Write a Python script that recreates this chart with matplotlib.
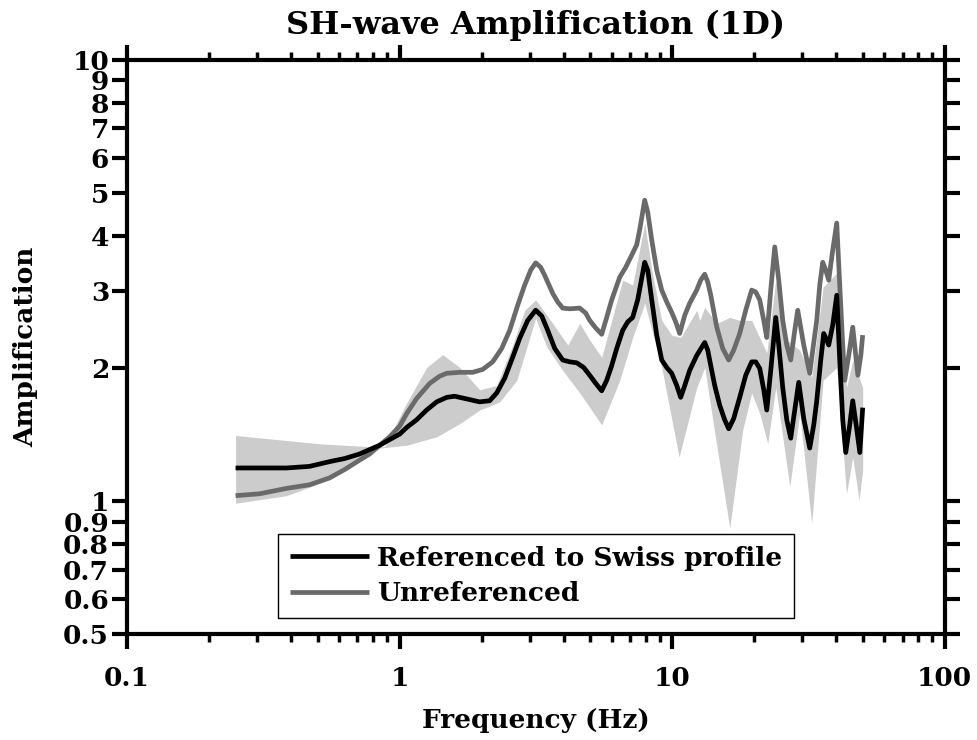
import numpy as np
import matplotlib
matplotlib.use('Agg')
from matplotlib import pyplot as plt
from matplotlib.ticker import FixedLocator, LogLocator, NullFormatter, NullLocator

#########
# data
#########

# amplification referenced to the Swiss reference rock profile
f_ref = [0.25, 0.306, 0.385, 0.467, 0.553, 0.628, 0.713, 0.776, 0.845, 0.919,
         1.0, 1.061, 1.154, 1.256, 1.367, 1.488, 1.591, 1.732, 1.966, 2.139,
         2.270, 2.428, 2.598, 2.756, 2.950, 3.156, 3.320, 3.493, 3.706, 3.964,
         4.206, 4.462, 4.734, 4.981, 5.240, 5.511, 5.749, 5.998, 6.257, 6.582,
         6.866, 7.161, 7.470, 7.727, 7.925, 8.132, 8.411, 8.773, 9.152, 9.546,
         9.958, 10.39, 10.74, 11.12, 11.59, 12.30, 13.16, 13.50, 13.85, 14.32,
         14.94, 15.58, 16.12, 16.81, 17.69, 18.61, 19.57, 20.25, 20.95, 21.67,
         22.23, 22.99, 23.98, 24.60, 25.44, 26.32, 27.22, 28.16, 29.12, 30.38,
         31.96, 33.06, 33.91, 35.08, 35.97, 36.90, 37.52, 38.82, 40.15, 41.18,
         42.24, 43.32, 44.81, 45.96, 47.3, 48.8, 50.0]
amp_ref = [1.19, 1.19, 1.19, 1.20, 1.23, 1.25, 1.28, 1.31, 1.34, 1.38,
           1.42, 1.47, 1.53, 1.61, 1.68, 1.72, 1.73, 1.71, 1.68, 1.69,
           1.76, 1.90, 2.12, 2.34, 2.57, 2.71, 2.63, 2.44, 2.22, 2.09,
           2.07, 2.06, 2.01, 1.93, 1.85, 1.78, 1.88, 2.03, 2.22, 2.44,
           2.55, 2.61, 2.86, 3.20, 3.48, 3.34, 2.86, 2.38, 2.09, 2.01,
           1.95, 1.83, 1.72, 1.83, 1.98, 2.14, 2.29, 2.20, 2.03, 1.83,
           1.65, 1.53, 1.46, 1.54, 1.72, 1.93, 2.07, 2.07, 2.00, 1.79,
           1.61, 1.98, 2.61, 2.26, 1.81, 1.53, 1.39, 1.61, 1.86, 1.54,
           1.32, 1.49, 1.69, 2.09, 2.40, 2.32, 2.26, 2.51, 2.93, 2.09,
           1.53, 1.29, 1.49, 1.69, 1.49, 1.29, 1.63]

# unreferenced amplification
f_unref = [0.25, 0.306, 0.385, 0.467, 0.553, 0.628, 0.713, 0.776, 0.845, 0.919,
           1.0, 1.061, 1.154, 1.289, 1.40, 1.488, 1.661, 1.853, 2.017, 2.194,
           2.368, 2.533, 2.710, 2.875, 3.025, 3.156, 3.292, 3.405, 3.643, 3.800,
           3.964, 4.206, 4.578, 4.815, 4.981, 5.240, 5.511, 5.749, 5.998, 6.418,
           6.751, 7.100, 7.407, 7.597, 7.792, 7.925, 8.132, 8.411, 8.773, 9.152,
           9.546, 9.958, 10.30, 10.65, 11.12, 11.59, 12.30, 12.72, 13.16, 13.50,
           13.85, 14.57, 15.32, 16.12, 16.81, 17.69, 18.61, 19.57, 20.25, 20.95,
           21.67, 22.23, 22.99, 23.78, 24.60, 25.44, 26.32, 27.22, 28.16, 28.88,
           30.38, 31.96, 32.78, 33.91, 34.78, 35.67, 36.58, 37.52, 38.82, 40.15,
           41.18, 42.24, 42.95, 44.43, 45.96, 47.15, 48.0, 49.2, 50.0]
amp_unref = [1.03, 1.04, 1.07, 1.09, 1.13, 1.18, 1.24, 1.28, 1.34, 1.40,
             1.48, 1.58, 1.71, 1.85, 1.92, 1.95, 1.96, 1.96, 1.99, 2.07,
             2.22, 2.44, 2.78, 3.09, 3.34, 3.47, 3.39, 3.25, 2.96, 2.83,
             2.74, 2.73, 2.74, 2.67, 2.57, 2.47, 2.39, 2.61, 2.86, 3.22,
             3.39, 3.61, 3.81, 4.12, 4.52, 4.81, 4.52, 3.91, 3.34, 3.01,
             2.83, 2.68, 2.55, 2.40, 2.64, 2.81, 3.01, 3.17, 3.27, 3.14,
             2.93, 2.48, 2.22, 2.09, 2.20, 2.40, 2.71, 3.01, 2.98, 2.86,
             2.57, 2.35, 3.01, 3.77, 3.17, 2.57, 2.26, 2.09, 2.44, 2.71,
             2.26, 1.95, 2.20, 2.57, 3.09, 3.48, 3.34, 3.17, 3.71, 4.27,
             3.09, 2.26, 1.88, 2.14, 2.48, 2.14, 1.93, 2.14, 2.38]

# spread of the referenced amplification (upper / lower envelope)
f_hi = [0.25, 0.509, 0.776, 0.88, 1.061, 1.256, 1.438, 1.661, 1.966, 2.27,
        2.598, 2.875, 3.156, 3.643, 4.14, 4.58, 4.98, 5.511, 5.998, 6.58,
        7.16, 7.93, 8.41, 9.15, 9.96, 10.75, 12.30, 12.62, 13.16, 14.57,
        16.26, 17.69, 19.57, 22.23, 23.98, 26.32, 29.37, 32.5, 35.8, 40.15,
        43.6, 45.96, 50.0]
amp_hi = [1.41, 1.35, 1.33, 1.33, 1.67, 2.01, 2.15, 2.01, 1.79, 1.83,
          2.26, 2.71, 2.86, 2.53, 2.26, 2.53, 2.32, 2.12, 2.57, 3.17,
          3.09, 4.27, 3.34, 2.57, 2.38, 2.35, 2.71, 2.57, 2.75, 2.53,
          2.61, 2.57, 2.57, 2.17, 3.17, 2.32, 2.20, 1.91, 3.06, 3.29,
          1.81, 2.09, 1.81]

f_lo = [0.25, 0.385, 0.554, 0.845, 1.061, 1.367, 1.661, 1.966, 2.328, 2.69,
        3.156, 3.46, 3.963, 4.58, 5.511, 6.42, 7.16, 7.93, 9.15, 10.6,
        12.3, 13.16, 14.08, 16.26, 18.14, 19.57, 20.95, 22.41, 23.98, 27.0,
        29.37, 32.5, 35.8, 40.15, 43.6, 45.96, 48.5, 50.0]
amp_lo = [0.99, 1.03, 1.12, 1.32, 1.34, 1.40, 1.50, 1.61, 1.68, 1.88,
          2.60, 2.24, 1.98, 1.76, 1.49, 1.88, 2.35, 2.81, 2.01, 1.26,
          1.81, 2.01, 1.53, 0.87, 1.45, 1.76, 1.58, 1.35, 1.81, 1.08,
          1.58, 0.89, 1.88, 2.01, 1.04, 1.26, 1.005, 1.18]

y_ticks = [0.5, 0.6, 0.7, 0.8, 0.9, 1, 2, 3, 4, 5, 6, 7, 8, 9, 10]
y_labels = ['0.5', '0.6', '0.7', '0.8', '0.9', '1', '2', '3', '4', '5', '6', '7', '8', '9', '10']
x_ticks = [0.1, 1, 10, 100]
x_labels = ['0.1', '1', '10', '100']

##########
# plotting
##########

plt.rcParams['font.family'] = 'DejaVu Serif'
plt.rcParams['font.weight'] = 'bold'

fig = plt.figure(figsize=(9.78, 7.40), dpi=100)
ax = fig.add_axes([0.130, 0.143, 0.836, 0.776])

# shaded band: put both envelopes on a common log-frequency grid
f_band = np.unique(np.concatenate([f_hi, f_lo]))
hi = 10 ** np.interp(np.log10(f_band), np.log10(f_hi), np.log10(amp_hi))
lo = 10 ** np.interp(np.log10(f_band), np.log10(f_lo), np.log10(amp_lo))
ax.fill_between(f_band, lo, hi, color='#cccccc', linewidth=0, zorder=1)

ax.plot(f_ref, amp_ref, color='black', lw=3.4, solid_joinstyle='round',
        solid_capstyle='butt', label='Referenced to Swiss profile', zorder=3)
ax.plot(f_unref, amp_unref, color='#6a6a6a', lw=3.4, solid_joinstyle='round',
        solid_capstyle='butt', label='Unreferenced', zorder=2)

ax.set_xscale('log')
ax.set_yscale('log')
ax.set_xlim(0.1, 100)
ax.set_ylim(0.5, 10)

ax.xaxis.set_major_locator(FixedLocator(x_ticks))
ax.set_xticklabels(x_labels)
ax.xaxis.set_minor_locator(LogLocator(base=10, subs=np.arange(2, 10)))
ax.xaxis.set_minor_formatter(NullFormatter())
ax.yaxis.set_major_locator(FixedLocator(y_ticks))
ax.set_yticklabels(y_labels)
ax.yaxis.set_minor_locator(NullLocator())

for s in ax.spines.values():
    s.set_linewidth(3)
ax.tick_params(which='major', direction='out', length=11, width=3, labelsize=19,
               top=True, right=True)
ax.tick_params(axis='x', which='major', pad=12)
ax.tick_params(axis='y', which='major', pad=2)
ax.tick_params(which='minor', direction='out', length=6, width=2.5, top=True, right=False)

ax.set_title('SH-wave Amplification (1D)', fontsize=23, fontweight='bold', pad=19)
ax.set_xlabel('Frequency (Hz)', fontsize=19, fontweight='bold', labelpad=12)
ax.set_ylabel('Amplification', fontsize=19, fontweight='bold', labelpad=18)

leg = ax.legend(loc='lower left', bbox_to_anchor=(0.185, 0.028), borderaxespad=0,
                fancybox=False, framealpha=1, edgecolor='black', fontsize=19,
                handlelength=3.0, handletextpad=0.3, labelspacing=0.4,
                borderpad=0.45)
leg.get_frame().set_linewidth(1)

fig.savefig('out.png', dpi=100)
